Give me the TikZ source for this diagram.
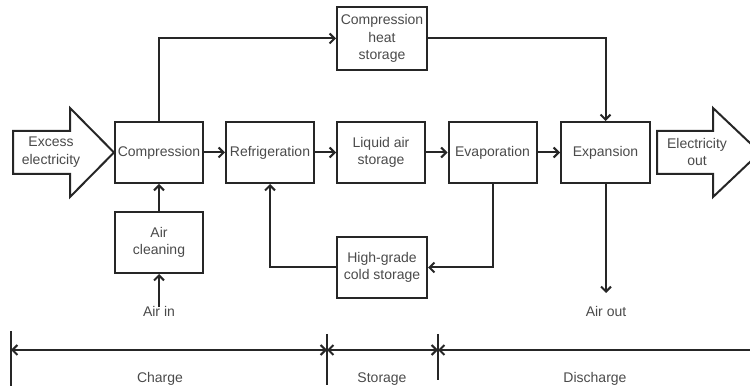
\documentclass[tikz,border=0pt]{standalone}
\usepackage{fontspec}
\setmainfont{Liberation Sans}
\usetikzlibrary{arrows.meta}
\definecolor{ln}{HTML}{262626}
\definecolor{tx}{HTML}{4A4A4A}
\tikzset{
  tip/.tip={Straight Barb[length=5pt,width=10pt,line width=2pt]},
  box/.style={draw=ln, line width=2pt, minimum width=88pt, minimum height=61pt, inner sep=1pt, align=center, text=tx, font=\fontsize{14}{17.5}\selectfont},
  lbl/.style={text=tx, font=\fontsize{14}{17.5}\selectfont, align=center, inner sep=1pt},
  conn/.style={draw=ln, line width=2pt, -tip},
  plain/.style={draw=ln, line width=2pt},
  dbl/.style={draw=ln, line width=2.4pt, tip-tip},
  bigarrow/.style={draw=ln, line width=2pt, fill=white, line join=miter}
}
\begin{document}
\begin{tikzpicture}[x=1pt,y=-1pt]
\useasboundingbox (0,0) rectangle (750,387);
\begin{scope}
\clip (0,0) rectangle (750,387);
% big arrows
\draw[bigarrow] (13,131) -- (70,131) -- (70,108) -- (114,152.5) -- (70,197) -- (70,174) -- (13,174) -- cycle;
\draw[bigarrow] (657,131) -- (713,131) -- (713,108) -- (760,152.5) -- (713,197) -- (713,174) -- (657,174) -- cycle;
\end{scope}
\node[lbl] (exc) at (51,152) {Excess\\electricity};
\node[lbl] (eout) at (697,152) {Electricity\\out};

% boxes
\node[box] (comp) at (159,152.5) {Compression};
\node[box] (refr) at (270,152.5) {Refrigeration};
\node[box] (liq) at (381,152.5) {Liquid air\\storage};
\node[box] (evap) at (492.5,152.5) {Evaporation};
\node[box, minimum width=89pt] (exp) at (605.5,152.5) {Expansion};
\node[box, minimum width=90pt, minimum height=63pt] (heat) at (382,38.5) {Compression\\heat\\storage};
\node[box] (clean) at (159,242.5) {Air\\cleaning};
\node[box, minimum width=90pt] (cold) at (382,267.5) {High-grade\\cold storage};

\node[lbl] (airin) at (159,311) {Air in};
\node[lbl] (airout) at (606,311) {Air out};

% connectors
\draw[conn] (comp) -- (refr);
\draw[conn] (refr) -- (liq);
\draw[conn] (liq) -- (evap);
\draw[conn] (evap) -- (exp);
\draw[conn] (clean.north) -- (comp.south);
\draw[conn] ([yshift=-2pt]airin.north) -- (clean.south);
\draw[conn] (comp.north) |- (heat.west);
\draw[conn] (heat.east) -| (exp.north);
\draw[conn] (evap.south) |- (cold.east);
\draw[conn] (cold.west) -| (refr.south);
\coordinate (aoend) at (606,293);
\draw[conn] (exp.south -| aoend) -- (aoend);

% timeline
\coordinate (t0) at (11,350);
\coordinate (t1) at (327,350);
\coordinate (t2) at (438,350);
\coordinate (t3) at (752,350);
\draw[plain] (11,331) -- (11,386);
\draw[plain] (327,334) -- (327,385);
\draw[plain] (438,334) -- (438,380);
\draw[dbl] (t0) -- (t1);
\draw[dbl] (t1) -- (t2);
\draw[draw=ln, line width=2.4pt, tip-] (t2) -- (t3);
\node[lbl] (charge) at (160,379) {Charge};
\node[lbl] (storage) at (382,379) {Storage};
\node[lbl] (disch) at (595,379) {Discharge};
\end{tikzpicture}
\end{document}
